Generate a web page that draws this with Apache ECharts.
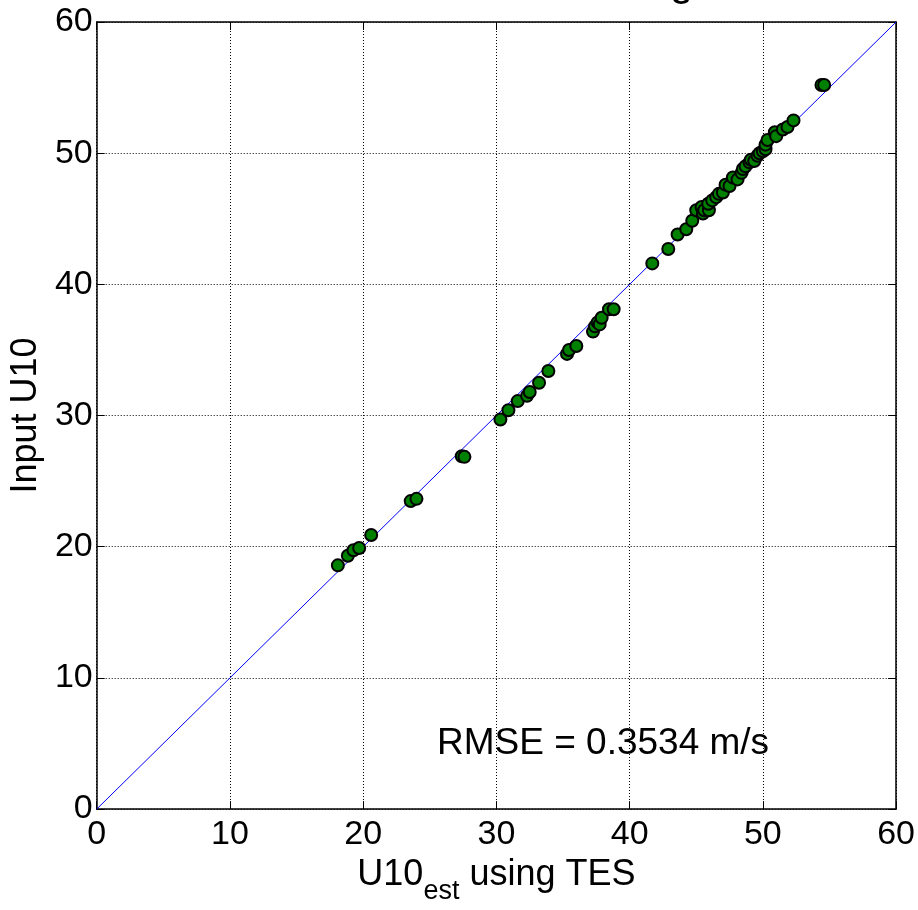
<!DOCTYPE html>
<html>
<head>
<meta charset="utf-8">
<script src="https://cdn.jsdelivr.net/npm/echarts@6/dist/echarts.min.js"></script>
<style>html,body{margin:0;padding:0;background:#fff}#c{width:918px;height:910px}</style>
</head>
<body>
<div id="c"></div>
<script>
const estU10 = [18.1,18.85,19.27,19.7,20.6,23.57,24.0,27.4,27.6,
  30.3,30.9,31.6,32.3,32.5,33.2,33.9,35.3,35.45,36.0,37.25,37.4,37.6,37.75,37.9,38.45,38.8,
  41.7,42.9,43.6,44.25,44.7,45.0,45.4,45.5,45.6,45.95,45.9,46.2,46.5,46.7,47.0,47.2,47.5,47.75,48.1,48.4,48.5,48.7,49.0,49.1,49.35,49.6,49.75,50.0,50.2,50.2,50.35,50.9,51.0,51.5,51.85,52.3,54.4,54.6];
const inputU10 = [18.58,19.31,19.73,19.9,20.9,23.48,23.65,26.9,26.85,
  29.7,30.4,31.1,31.5,31.8,32.5,33.4,34.7,35.0,35.3,36.4,36.8,37.1,36.95,37.45,38.1,38.1,
  41.6,42.7,43.8,44.2,44.85,45.65,45.9,45.4,45.65,45.65,46.15,46.4,46.65,46.9,47.0,47.6,47.5,48.15,48.0,48.5,48.8,49.0,49.3,49.5,49.4,49.8,50.0,50.15,50.3,50.65,51.0,51.6,51.3,51.8,52.0,52.5,55.2,55.2];
const refLine = [[0,0],[60,60]];
const tickValues = [0,10,20,30,40,50,60];
const rmseText = 'RMSE = 0.3534 m/s';
const xLabel = ['U10','est',' using TES'];
const yLabel = 'Input U10';

const font = 'Liberation Sans, Arial, Helvetica, sans-serif';
const points = estU10.map((v,i)=>[v,inputU10[i]]);

const chart = echarts.init(document.getElementById('c'), null, {renderer:'canvas'});
const baseAxis = {
  min: 0, max: 60, interval: 10,
  axisLine: {show:true, onZero:false, lineStyle:{color:'#000', width:1.5}},
  axisTick: {show:true, inside:true, length:8, lineStyle:{color:'#000', width:1}},
  splitLine: {show:false}
};
chart.setOption({
  animation: false,
  backgroundColor: '#fff',
  grid: {left: 96, right: 21, top: 22, bottom: 88, containLabel: false},
  xAxis: [
    Object.assign({}, baseAxis, {
      type:'value', position:'bottom',
      axisLabel: {show:true, color:'#000', fontSize:34, fontFamily:font, margin:9},
      splitLine: {show:true, lineStyle:{color:'#000', width:1, type:[1,2]}},
      name: '{a|' + xLabel[0] + '}{b|' + xLabel[1] + '}{a|' + xLabel[2] + '}',
      nameLocation: 'middle', nameGap: 42,
      nameTextStyle: {
        color:'#000', fontFamily: font,
        rich: {
          a: {fontSize:36, fontFamily:font, color:'#000', lineHeight:36, verticalAlign:'top'},
          b: {fontSize:27, fontFamily:font, color:'#000', lineHeight:27, verticalAlign:'top', padding:[21,0,0,0]}
        }
      }
    }),
    Object.assign({}, baseAxis, {type:'value', position:'top', axisLabel:{show:false}})
  ],
  yAxis: [
    Object.assign({}, baseAxis, {
      type:'value', position:'left',
      axisLabel: {show:true, color:'#000', fontSize:34, fontFamily:font, margin:4},
      splitLine: {show:true, lineStyle:{color:'#000', width:1, type:[1,2]}},
      name: yLabel, nameLocation:'middle', nameGap: 52, nameRotate: 90,
      nameTextStyle: {color:'#000', fontSize:36, fontFamily:font}
    }),
    Object.assign({}, baseAxis, {type:'value', position:'right', axisLabel:{show:false}})
  ],
  series: [
    {
      type:'line', data: refLine, symbol:'none', silent:true,
      lineStyle:{color:'#0000ff', width:1}, z:2
    },
    {
      type:'scatter', data: points, symbol:'circle', symbolSize: 12,
      itemStyle:{color:'#008000', borderColor:'#000', borderWidth:2, opacity:1}, z:3
    }
  ],
  graphic: [
    {type:'text', left: 437, top: 725, style:{text: rmseText, fill:'#000', font: '37px ' + font}},
    {type:'text', left: 670, top: -38, style:{text: 'g', fill:'#000', font: '42px ' + font}}
  ]
});
</script>
</body>
</html>
